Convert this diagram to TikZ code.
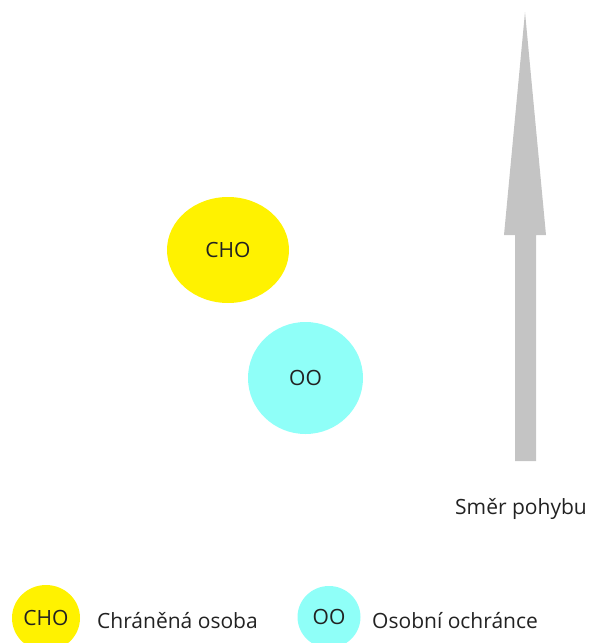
\documentclass[tikz,border=0pt]{standalone}
\usepackage{fontspec}
\setmainfont{Open Sans}
\definecolor{choyellow}{HTML}{FFF200}
\definecolor{oocyan}{HTML}{8FFFF8}
\definecolor{arrowgray}{HTML}{C4C4C4}
\definecolor{txt}{HTML}{222222}
\tikzset{
  person/.style={ellipse, inner sep=0pt, text=txt, font=\fontsize{21}{24}\selectfont},
  cho/.style={person, fill=choyellow},
  oo/.style={person, fill=oocyan},
  lbl/.style={text=txt, font=\fontsize{21}{24}\selectfont, inner sep=0pt},
}
\usetikzlibrary{shapes.geometric}
\begin{document}
\begin{tikzpicture}[x=1pt,y=-1pt]
\useasboundingbox (0,0) rectangle (590,643);
% movement arrow
\fill[arrowgray] (515,461) -- (515,235) -- (504,235) -- (525,12) -- (546,235) -- (536,235) -- (536,461) -- cycle;
\node[lbl, anchor=west] (smer) at (455,509) {Směr pohybu};
% main persons
\node[cho, minimum width=122, minimum height=106] (cho) at (228,250) {CHO};
\node[oo, minimum width=115, minimum height=112] (oo) at (305.5,378) {OO};
% legend
\node[cho, minimum width=68, minimum height=66] (lcho) at (46,618) {CHO};
\node[lbl, anchor=west] (lchot) at (97,621) {Chráněná osoba};
\node[oo, minimum width=63, minimum height=62] (loo) at (329,617) {OO};
\node[lbl, anchor=west] (loot) at (372,621) {Osobní ochránce};
\end{tikzpicture}
\end{document}
